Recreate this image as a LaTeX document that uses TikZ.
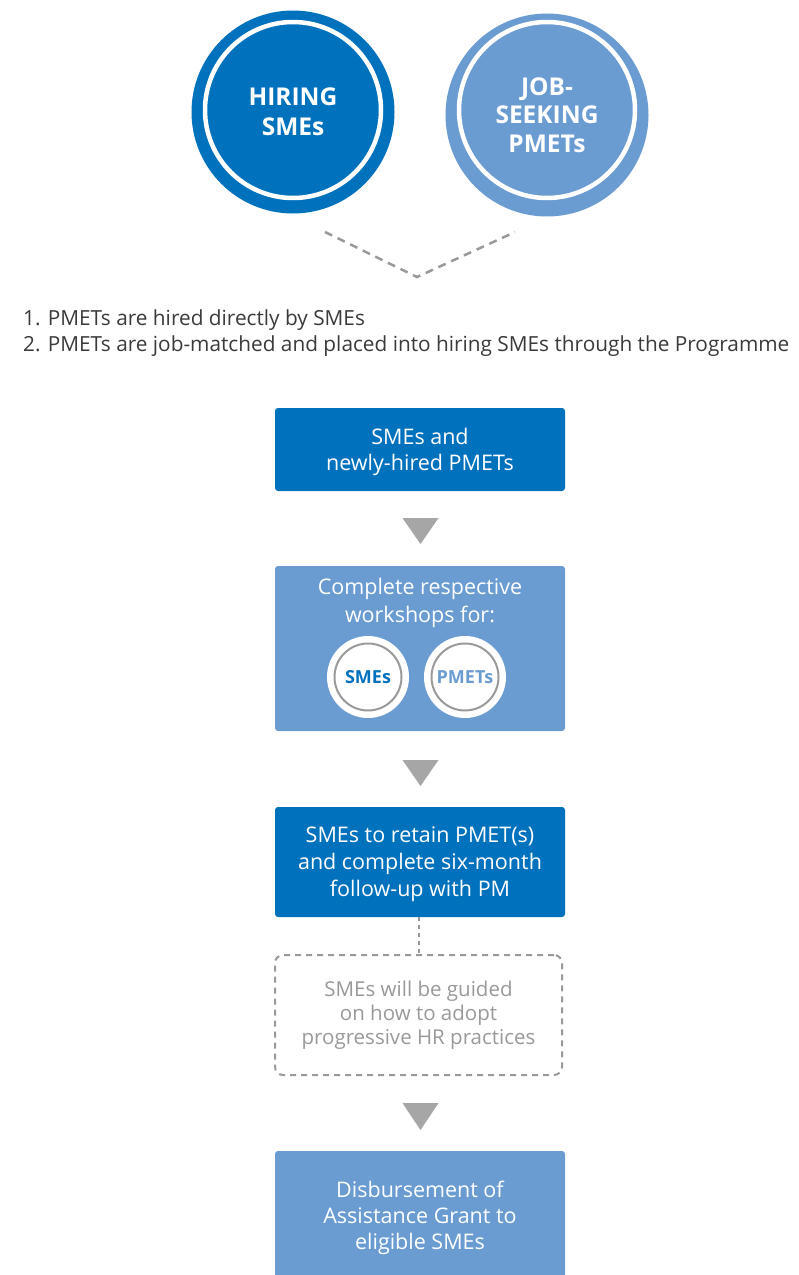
\documentclass[tikz,border=0pt]{standalone}
\usepackage{fontspec}
\setmainfont{Open Sans}
\definecolor{dblue}{HTML}{0071BC}
\definecolor{lblue}{HTML}{6A9CD2}
\definecolor{trig}{HTML}{A6A6A6}
\definecolor{dashg}{HTML}{999999}
\definecolor{ringg}{HTML}{9A9A9A}
\definecolor{listtext}{HTML}{3A3A3A}
\tikzset{
  bigcirc/.style={circle, minimum size=203pt, inner sep=0pt, align=center, text=white,
    font=\bfseries\fontsize{24.5}{30}\selectfont},
  flowbox/.style={rectangle, rounded corners=3pt, minimum width=290pt, inner sep=0pt,
    align=center, text=white, font=\fontsize{21.5}{26.8}\selectfont},
  smallc/.style={circle, fill=white, minimum size=82pt, inner sep=0pt,
    font=\bfseries\fontsize{18}{20}\selectfont},
  listline/.style={anchor=west, text=listtext, font=\fontsize{20.8}{24}\selectfont, inner sep=0pt},
  tri/.style={fill=trig},
  dashline/.style={draw=dashg, line width=2.5pt, dash pattern=on 8pt off 6pt},
}
\begin{document}
\begin{tikzpicture}[x=1pt,y=-1pt]
\useasboundingbox (0,0) rectangle (799,1275);
% top circles
\node[bigcirc, fill=dblue] (hire) at (293,112) {HIRING\\SMEs};
\draw[white, line width=4.5pt] (293,110) circle[radius=88pt];
\node[bigcirc, fill=lblue, font=\bfseries\fontsize{24.5}{28.5}\selectfont] (seek) at (547,115) {JOB-\\SEEKING\\PMETs};
\draw[white, line width=4.5pt] (547,110) circle[radius=88pt];
% dashed V
\coordinate (vl) at (325,232);
\coordinate (vm) at (417,277);
\coordinate (vr) at (515,232);
\draw[dashline] (vl) -- (vm) -- (vr);
% list
\node[listline] (l1) at (23,320) {1. PMETs are hired directly by SMEs};
\node[listline] (l2) at (23,346) {2. PMETs are job-matched and placed into hiring SMEs through the Programme};
% box 1
\node[flowbox, fill=dblue, minimum height=83pt] (b1) at (420,449.5) {};
\node[align=center, text=white, font=\fontsize{21.5}{25.5}\selectfont] (b1t) at (420,452) {SMEs and\\newly-hired PMETs};
\fill[tri] (402.5,518) -- (438.5,518) -- (420.5,544) -- cycle;
% box 2
\node[flowbox, fill=lblue, minimum height=165pt] (b2) at (420,648.5) {};
\node[align=center, text=white, font=\fontsize{21.5}{28}\selectfont] (b2t) at (420,603) {Complete respective\\workshops for:};
\node[smallc, text=dblue] (csme) at (368,677) {SMEs};
\draw[ringg, line width=2pt] (csme.center) circle[radius=33.5pt];
\node[smallc, text=lblue] (cpmet) at (465,677) {PMETs};
\draw[ringg, line width=2pt] (cpmet.center) circle[radius=33.5pt];
\fill[tri] (402.5,760) -- (438.5,760) -- (420.5,786) -- cycle;
% box 3
\node[flowbox, fill=dblue, minimum height=110pt] (b3) at (420,862) {};
\node[align=center, text=white, font=\fontsize{21.5}{26.8}\selectfont] (b3t) at (420,864) {SMEs to retain PMET(s)\\and complete six-month\\follow-up with PM};
% dashed box
\node[rectangle, rounded corners=8pt, draw=dashg, line width=2pt, dash pattern=on 6pt off 5pt,
  minimum width=287pt, minimum height=120pt, align=center, text=dashg,
  font=\fontsize{20.5}{24}\selectfont] (hr) at (418.5,1015) {SMEs will be guided\\on how to adopt\\progressive HR practices};
\draw[draw=dashg, line width=2pt, dash pattern=on 4pt off 4pt] (b3.south -| hr.north) -- (hr.north);
\fill[tri] (402.5,1103) -- (438.5,1103) -- (420.5,1130) -- cycle;
% box 4
\node[flowbox, fill=lblue, minimum height=130pt] (b4) at (420,1216) {};
\node[align=center, text=white, font=\fontsize{21.5}{26}\selectfont] (b4t) at (420,1218) {Disbursement of\\Assistance Grant to\\eligible SMEs};
\end{tikzpicture}
\end{document}
